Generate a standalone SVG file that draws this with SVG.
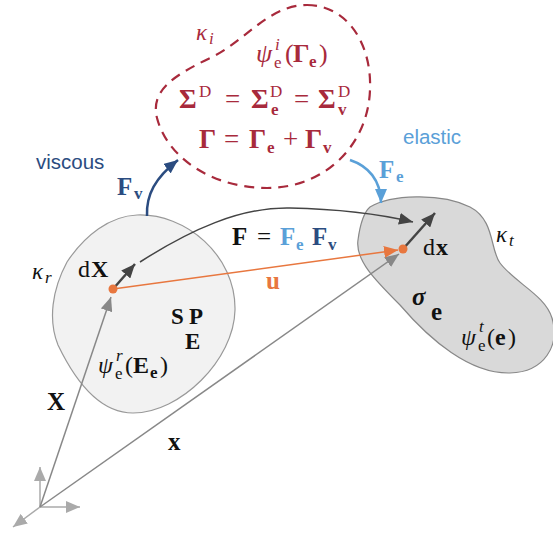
<svg xmlns="http://www.w3.org/2000/svg" width="553" height="533" viewBox="0 0 553 533">
<style>
.m{font-family:"Liberation Serif","DejaVu Serif",serif;}
.b{font-weight:bold;}
.n{font-weight:normal;}
.i{font-style:italic;}
.s{font-family:"Liberation Sans","DejaVu Sans",sans-serif;}
.red{fill:#a82a3c;}
.dk{fill:#2b4c80;}
.lb{fill:#5aa0d8;}
.or{fill:#e8773f;}
.blk{fill:#111;}
.sc{font-size:17px;}
</style>
<defs>
<marker id="ahG" markerUnits="userSpaceOnUse" markerWidth="16" markerHeight="12" refX="14" refY="6" orient="auto"><path d="M0,0 L14,6 L0,12 Z" fill="#888"/></marker>
<marker id="ahA" markerUnits="userSpaceOnUse" markerWidth="16" markerHeight="12" refX="14" refY="6" orient="auto"><path d="M0,0 L14,6 L0,12 Z" fill="#aaa"/></marker>
<marker id="ahD" markerUnits="userSpaceOnUse" markerWidth="16" markerHeight="12" refX="14" refY="6" orient="auto"><path d="M0,0 L14,6 L0,12 Z" fill="#444"/></marker>
<marker id="ahO" markerUnits="userSpaceOnUse" markerWidth="16" markerHeight="12" refX="14" refY="6" orient="auto"><path d="M0,0 L14,6 L0,12 Z" fill="#e8773f"/></marker>
<marker id="ahB" markerUnits="userSpaceOnUse" markerWidth="16" markerHeight="12" refX="14" refY="6" orient="auto"><path d="M0,0 L14,6 L0,12 Z" fill="#2b4c80"/></marker>
<marker id="ahL" markerUnits="userSpaceOnUse" markerWidth="16" markerHeight="12" refX="14" refY="6" orient="auto"><path d="M0,0 L14,6 L0,12 Z" fill="#5aa0d8"/></marker>
</defs>

<g id="kappa_i">
<path d="M307,5 C348,5 372,45 370,90 C368,145 325,188 267,188 C215,188 168,160 157,118 C150,90 175,75 210,58 C245,42 268,5 307,5 Z" fill="none" stroke="#a82a3c" stroke-width="2.2" stroke-dasharray="10,7"/>
<text class="m i red" font-size="23"><tspan x="196" y="40">κ</tspan><tspan x="209" y="44" class="sc">i</tspan></text>
<text class="m red" font-size="26"><tspan x="256" y="62" class="i">ψ</tspan><tspan x="275" y="50" class="i sc">i</tspan><tspan x="274" y="68" class="sc">e</tspan><tspan x="285" y="62">(</tspan><tspan x="293" y="62" class="b">Γ</tspan><tspan x="309" y="67" class="b sc">e</tspan><tspan x="319" y="62">)</tspan></text>
<text class="m red" font-size="27"><tspan x="179" y="108" class="b">Σ</tspan><tspan x="199" y="97" class="sc">D</tspan><tspan x="225" y="108">=</tspan><tspan x="251" y="108" class="b">Σ</tspan><tspan x="270" y="97" class="sc">D</tspan><tspan x="271" y="115" class="b sc">e</tspan><tspan x="294" y="108">=</tspan><tspan x="318" y="108" class="b">Σ</tspan><tspan x="338" y="97" class="sc">D</tspan><tspan x="338" y="115" class="b sc">v</tspan></text>
<text class="m red" font-size="27"><tspan x="199" y="148" class="b">Γ</tspan><tspan x="224" y="148">=</tspan><tspan x="249" y="148" class="b">Γ</tspan><tspan x="267" y="153" class="b sc">e</tspan><tspan x="283" y="148">+</tspan><tspan x="305" y="148" class="b">Γ</tspan><tspan x="323" y="153" class="b sc">v</tspan></text>
</g>

<g id="kappa_r">
<path d="M137,215 C185,213 236,255 235,310 C234,360 180,413 133,413 C95,413 70,370 58,345 C48,320 52,290 67,262 C85,235 110,216 137,215 Z" fill="#f2f2f2" stroke="#999" stroke-width="1.2"/>
<text class="m i blk" font-size="23"><tspan x="32" y="279">κ</tspan><tspan x="45" y="283" class="sc">r</tspan></text>
<text class="m blk" font-size="24"><tspan x="78" y="277">d</tspan><tspan x="91" y="277" class="b">X</tspan></text>
<text class="m b blk" font-size="23"><tspan x="171" y="324">S</tspan><tspan x="189" y="324">P</tspan><tspan x="185" y="349">E</tspan></text>
<text class="m blk" font-size="24"><tspan x="98" y="373" class="i">ψ</tspan><tspan x="116" y="361" class="i sc">r</tspan><tspan x="115" y="379" class="sc">e</tspan><tspan x="125" y="373">(</tspan><tspan x="133" y="373" class="b">E</tspan><tspan x="150" y="378" class="b sc">e</tspan><tspan x="160" y="373">)</tspan></text>
</g>

<g id="kappa_t">
<path d="M370,207 C390,195 440,192 470,207 C495,220 490,250 500,263 C515,283 545,295 552,318 C560,345 545,372 510,373 C470,374 430,340 400,305 C375,280 355,260 358,240 C360,225 363,213 370,207 Z" fill="#d9d9d9" stroke="#888" stroke-width="1.2"/>
<text class="m i blk" font-size="23"><tspan x="496" y="242">κ</tspan><tspan x="509" y="246" class="sc">t</tspan></text>
<text class="m blk" font-size="24"><tspan x="423" y="255">d</tspan><tspan x="436" y="255" class="b">x</tspan></text>
<text class="m b i blk" font-size="25" x="412" y="305">σ</text>
<text class="m b blk" font-size="25" x="431" y="320">e</text>
<text class="m blk" font-size="24"><tspan x="461" y="345" class="i">ψ</tspan><tspan x="479" y="332" class="i sc">t</tspan><tspan x="478" y="351" class="sc">e</tspan><tspan x="487" y="345">(</tspan><tspan x="495" y="345" class="b">e</tspan><tspan x="508" y="345">)</tspan></text>
</g>

<g id="axes">
<line x1="40" y1="507" x2="40" y2="467" stroke="#aaa" stroke-width="1.5" marker-end="url(#ahA)"/>
<line x1="40" y1="507" x2="80" y2="507" stroke="#aaa" stroke-width="1.5" marker-end="url(#ahA)"/>
<line x1="40" y1="507" x2="13" y2="527" stroke="#aaa" stroke-width="1.5" marker-end="url(#ahA)"/>
</g>

<g id="connectors">
<path d="M147,216 C146,195 155,178 178,160" fill="none" stroke="#2b4c80" stroke-width="2.5" marker-end="url(#ahB)"/>
<path d="M350,160 C368,166 381,180 381,203" fill="none" stroke="#5aa0d8" stroke-width="2.5" marker-end="url(#ahL)"/>
<path d="M140,262 C190,230 240,207 290,208 C340,209 375,213 413,222" fill="none" stroke="#444" stroke-width="1.5" marker-end="url(#ahD)"/>
<line x1="40" y1="507" x2="111" y2="297" stroke="#888" stroke-width="1.5" marker-end="url(#ahG)"/>
<line x1="40" y1="507" x2="399" y2="254" stroke="#888" stroke-width="1.5" marker-end="url(#ahG)"/>
<line x1="113" y1="289" x2="398" y2="250" stroke="#e8773f" stroke-width="1.5" marker-end="url(#ahO)"/>
<line x1="113" y1="289" x2="135" y2="264" stroke="#444" stroke-width="2.5" marker-end="url(#ahD)"/>
<line x1="403" y1="249" x2="435" y2="213" stroke="#444" stroke-width="2.5" marker-end="url(#ahD)"/>
<circle cx="113" cy="289" r="4.5" fill="#e8773f"/>
<circle cx="403" cy="249" r="4.5" fill="#e8773f"/>
</g>

<g id="labels">
<text x="36" y="169" class="s dk" font-size="20.5">viscous</text>
<text x="403" y="144" class="s lb" font-size="20.5">elastic</text>
<text class="m b dk" font-size="25"><tspan x="117" y="195">F</tspan><tspan x="134" y="199" class="sc">v</tspan></text>
<text class="m b lb" font-size="25"><tspan x="379" y="178">F</tspan><tspan x="396" y="182" class="sc">e</tspan></text>
<text class="m b blk" font-size="25"><tspan x="232" y="245">F</tspan><tspan x="257" y="245" class="n">=</tspan><tspan x="280" y="245" class="lb">F</tspan><tspan x="296" y="250" class="lb sc">e</tspan><tspan x="312" y="245" class="dk">F</tspan><tspan x="328" y="250" class="dk sc">v</tspan></text>
<text x="266" y="289" class="m b or" font-size="25">u</text>
<text x="47" y="410" class="m b blk" font-size="25">X</text>
<text x="168" y="450" class="m b blk" font-size="25">x</text>
</g>
</svg>
